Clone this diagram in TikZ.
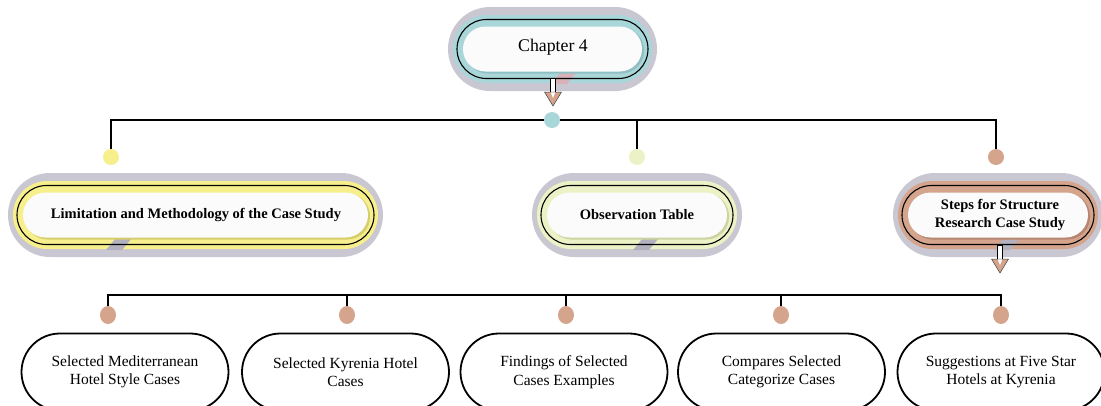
\documentclass[tikz,border=0pt]{standalone}
\usepackage{fontspec}
\setmainfont{Liberation Serif}
\usetikzlibrary{calc,shapes.misc,shapes.geometric}
\definecolor{greyout}{HTML}{C9C7D1}
\definecolor{teal1}{HTML}{A9D6D9}
\definecolor{tealdk}{HTML}{8FBFC3}
\definecolor{yel1}{HTML}{F6EF8C}
\definecolor{yeldk}{HTML}{D6CD6C}
\definecolor{grn1}{HTML}{EDF2C6}
\definecolor{grndk}{HTML}{CDD3A3}
\definecolor{tan1}{HTML}{D4A48D}
\definecolor{tandk}{HTML}{B88670}
\definecolor{stripg}{HTML}{B3B1BE}
\definecolor{strippk}{HTML}{D8B2B8}
\definecolor{whitein}{HTML}{FBFBFB}

% cx, cy, hw, colour, dark colour, strip x, strip colour
\newcommand\pillstack[7]{%
  \fill[greyout, rounded corners=42pt] (#1-#3,#2-42) rectangle (#1+#3,#2+42);
  \fill[#4, rounded corners=34pt] (#1-#3+5,#2-34) rectangle (#1+#3-5,#2+34);
  \fill[#7] (#6+10,#2+23) -- (#6+26,#2+23) -- (#6+16,#2+35) -- (#6,#2+35) -- cycle;
  \draw[black, line width=1.1pt, rounded corners=29.5pt] (#1-#3+9,#2-29.5) rectangle (#1+#3-9,#2+29.5);
  \fill[#5, rounded corners=22.5pt] (#1-#3+17,#2-21.5) rectangle (#1+#3-13,#2+24.5);
  \fill[whitein, rounded corners=22.5pt] (#1-#3+15,#2-22.5) rectangle (#1+#3-15,#2+22.5);
}
% double arrow hanging from a coordinate
\newcommand\dblarrow[1]{%
  \filldraw[fill=white, draw=black, line width=0.6pt] ($(#1)+(-2.6,0)$) rectangle ($(#1)+(2.6,16)$);
  \filldraw[fill=tan1, draw=black!75, line width=0.5pt] ($(#1)+(-8.5,14)$) -- ($(#1)+(8.5,14)$) -- ($(#1)+(0,28)$) -- cycle;
  \fill[white] ($(#1)+(-2.3,14.3)$) -- ($(#1)+(2.3,14.3)$) -- ($(#1)+(0,20)$) -- cycle;
}

\tikzset{
  chaptext/.style={font=\fontsize{17.8}{21}\selectfont, inner sep=0pt},
  midtext/.style={font=\bfseries\fontsize{14.5}{18.5}\selectfont, align=center, inner sep=0pt},
  botbox/.style={draw=black, line width=1.8pt, fill=white, rounded rectangle,
    minimum width=207pt, minimum height=77pt, inner sep=0pt, align=center,
    font=\fontsize{15.5}{18.5}\selectfont},
  topdot/.style={circle, minimum size=16pt, inner sep=0pt},
  botdot/.style={ellipse, fill=tan1, minimum width=16pt, minimum height=18pt, inner sep=0pt},
  link/.style={line width=1.8pt, black},
}

\begin{document}
\begin{tikzpicture}[x=1pt,y=-1pt]
\useasboundingbox (0,0) rectangle (1101,405);
\clip (0,0) rectangle (1101,405);

% layered top and middle boxes
\pillstack{552.5}{49}{104.5}{teal1}{tealdk}{551}{strippk}
\pillstack{195.5}{215}{187.5}{yel1}{yeldk}{106}{stripg}
\pillstack{637}{215}{105}{grn1}{grndk}{633}{stripg}
\pillstack{998}{215}{105}{tan1}{tandk}{994}{stripg}

\node[chaptext] (chap) at (553,47) {Chapter 4};
\node[midtext] (lim) at (196,215) {Limitation and Methodology of the Case Study};
\node[midtext] (obs) at (637,215) {Observation Table};
\node[midtext] (steps) at (1000,215) {Steps for Structure\\Research Case Study};

% dots
\node[topdot, fill=teal1] (chapdot) at (552,120) {};
\node[topdot, fill=yel1] (limdot) at (111,157) {};
\node[topdot, fill=grn1] (obsdot) at (637,157) {};
\node[topdot, fill=tan1] (stepsdot) at (996,157) {};

% bottom boxes
\node[botbox] (b1) at (125,372) {Selected Mediterranean\\Hotel Style Cases};
\node[botbox] (b2) at (345.5,372) {Selected Kyrenia Hotel\\Cases};
\node[botbox] (b3) at (564,372) {Findings of Selected\\Cases Examples};
\node[botbox] (b4) at (781.5,372) {Compares Selected\\Categorize Cases};
\node[botbox] (b5) at (1001,372) {Suggestions at Five Star\\Hotels at Kyrenia};

\node[botdot] (d1) at (108,315) {};
\node[botdot] (d2) at (347,315) {};
\node[botdot] (d3) at (566,315) {};
\node[botdot] (d4) at (781,315) {};
\node[botdot] (d5) at (1001,315) {};

% arrows
\coordinate (chaparr) at (553,78);
\coordinate (stepsarr) at (1000,245);
\dblarrow{chaparr}
\dblarrow{stepsarr}

% connectors
\draw[link] (limdot.north) |- (chapdot.west);
\draw[link] (chapdot.east) -| (stepsdot.north);
\draw[link] (obsdot.north) -- (obsdot.north |- chapdot.east);

\coordinate (bl) at (0,295);
\draw[link] (d1.north) |- (bl -| d5) -- (d5.north);
\draw[link] (d2.north) -- (d2.north |- bl);
\draw[link] (d3.north) -- (d3.north |- bl);
\draw[link] (d4.north) -- (d4.north |- bl);
\end{tikzpicture}
\end{document}
